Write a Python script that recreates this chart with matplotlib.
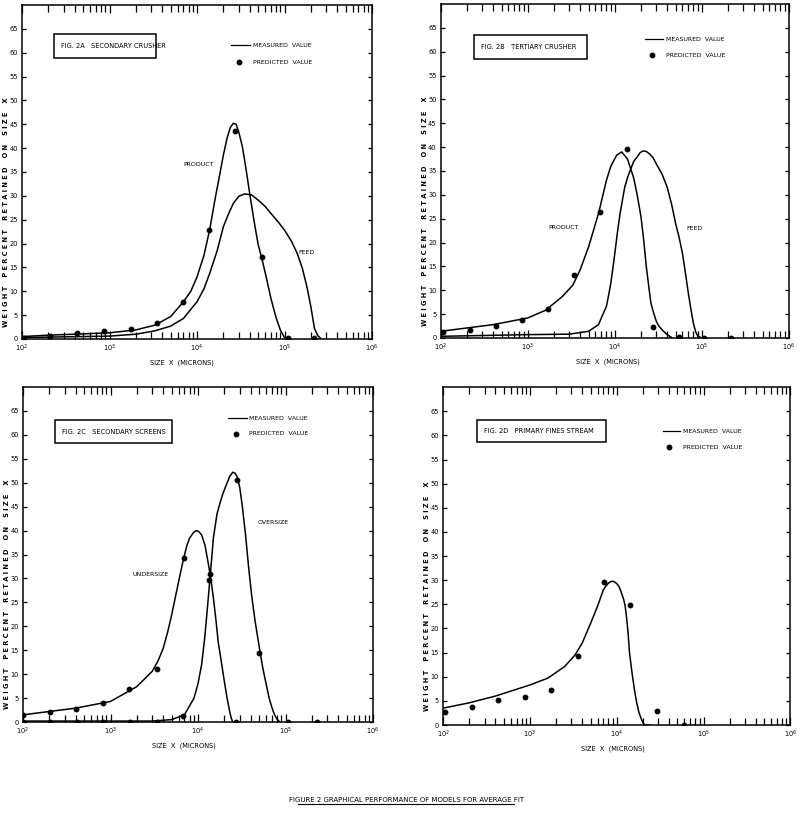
import matplotlib
matplotlib.use("Agg")
import matplotlib.pyplot as plt
from matplotlib.patches import Rectangle
from matplotlib.lines import Line2D
from matplotlib.ticker import LogLocator, FixedLocator, NullFormatter

plt.rcParams['font.family'] = ['Liberation Sans Narrow', 'DejaVu Sans']

# ---------------- Fig 2A secondary crusher ----------------
a_pts_x = [105, 209, 427, 861, 1740, 3470, 6930, 13800, 27500, 55000, 110000, 219000]
a_pts_y = [0.3, 0.6, 1.3, 1.7, 2.0, 3.3, 7.75, 22.8, 43.6, 17.2, 0.3, 0.3]
a_prod_x = [100, 200, 400, 1000, 2000, 3300, 5000, 7000, 8500, 10000, 12000, 14000,
            16000, 18000, 20000, 22000, 24000, 26000, 28000, 30000, 33000, 36000,
            40000, 45000, 50000, 55000, 60000, 70000, 80000, 90000, 100000]
a_prod_y = [0.5, 0.8, 1.0, 1.3, 1.9, 2.9, 4.7, 7.8, 10.0, 13.0, 17.5, 23.0,
            29.1, 34.0, 38.5, 42.0, 44.3, 45.2, 45.0, 43.4, 40.3, 36.1,
            30.5, 24.6, 19.8, 16.9, 14.0, 8.5, 4.5, 1.8, 0.3]
a_feed_x = [100, 1000, 2000, 3300, 5000, 7000, 10000, 12000, 14000, 17000, 20000, 23000,
            26000, 30000, 35000, 42000, 50000, 60000, 70000, 85000, 100000, 120000,
            140000, 160000, 180000, 200000, 220000, 240000, 260000]
a_feed_y = [0.3, 0.6, 1.0, 1.7, 2.7, 4.3, 7.8, 10.5, 13.8, 18.5, 23.5, 26.3,
            28.4, 29.9, 30.4, 30.2, 29.1, 27.8, 26.3, 24.5, 22.8, 20.5,
            17.9, 14.8, 11.0, 6.8, 2.2, 0.7, 0.1]

# ---------------- Fig 2B tertiary crusher ----------------
b_pts_x = [105, 218, 430, 857, 1718, 3410, 6760, 13700, 27600, 55000, 107000, 218000]
b_pts_y = [1.25, 1.7, 2.6, 3.8, 6.0, 13.2, 26.4, 39.6, 2.4, 0.2, 0.0, 0.0]
b_prod_x = [100, 200, 400, 1000, 1600, 2500, 3300, 4000, 5000, 6500, 8000, 9000, 10500,
            12000, 14000, 16500, 18000, 20000, 21500, 23000, 24500, 26000, 28000,
            30000, 32000, 35000, 40000, 45000]
b_prod_y = [1.4, 2.1, 2.8, 4.2, 5.8, 8.7, 11.1, 14.3, 19.1, 26.1, 33.0, 36.0, 38.3,
            39.0, 37.5, 33.5, 30.2, 25.4, 20.5, 15.0, 11.0, 7.3, 5.2,
            3.5, 2.5, 1.7, 0.7, 0.1]
b_feed_x = [100, 1000, 3000, 5000, 6500, 7000, 8000, 8500, 9000, 9500, 10000, 10700,
            11500, 13000, 14000, 15000, 16500, 18000, 19500, 21000, 23000, 25000,
            27500, 30000, 35000, 40000, 45000, 50000, 55000, 60000, 65000, 70000,
            75000, 80000, 85000, 90000, 100000]
b_feed_y = [0.35, 0.7, 0.8, 1.4, 2.8, 4.2, 6.6, 9.0, 11.5, 14.6, 17.7, 22.0,
            26.1, 31.6, 33.6, 35.1, 37.0, 37.9, 38.8, 39.2, 39.1, 38.6,
            37.8, 36.5, 34.3, 31.6, 28.0, 24.0, 21.0, 17.7, 13.5, 9.4,
            6.0, 3.1, 1.3, 0.35, 0.0]

# ---------------- Fig 2C secondary screens ----------------
c_under_pts_x = [100, 203, 407, 815, 1640, 3390, 6920, 13800, 27000]
c_under_pts_y = [1.4, 2.1, 2.8, 4.0, 7.0, 11.1, 34.2, 30.9, 0.0]
c_over_pts_x = [100, 201, 409, 818, 1650, 3380, 6680, 13460, 28100, 50400, 107000, 229000]
c_over_pts_y = [0.1, 0.0, 0.0, 0.1, 0.1, 0.1, 1.2, 29.7, 50.5, 14.4, 0.0, 0.0]
c_under_x = [100, 200, 400, 1000, 2000, 3000, 3500, 4000, 4500, 5000, 5500, 6000, 6500,
             7000, 7500, 8000, 8800, 9500, 10200, 11000, 12000, 13000, 14000, 15000,
             16000, 17000, 18500, 20000, 21500, 23000, 24000, 25000]
c_under_y = [1.5, 2.2, 2.9, 4.3, 7.4, 10.6, 12.8, 15.4, 18.8, 22.4, 26.0, 29.3, 32.3,
             34.9, 37.0, 38.4, 39.5, 40.0, 39.8, 39.1, 37.0, 33.5, 30.0, 25.9,
             21.5, 16.8, 12.5, 8.5, 5.0, 2.2, 0.8, 0.0]
c_over_x = [100, 3000, 5000, 7000, 9000, 10000, 11000, 12000, 13000, 14000, 15000,
            16500, 18000, 19500, 21000, 23000, 25000, 26500, 28000, 30000, 32000,
            35000, 38000, 41000, 45000, 50000, 55000, 60000, 65000, 70000, 75000,
            80000, 85000]
c_over_y = [0.2, 0.2, 0.5, 1.5, 5.0, 8.0, 12.0, 18.0, 25.2, 32.0, 38.5,
            43.5, 46.0, 48.0, 49.5, 51.3, 52.2, 52.0, 51.3, 49.0, 45.3,
            39.0, 32.1, 26.5, 21.0, 15.8, 11.3, 8.0, 5.0, 3.0, 1.5,
            0.6, 0.1]

# ---------------- Fig 2D primary fines stream ----------------
d_pts_x = [104, 216, 427, 865, 1754, 3590, 7080, 14100, 29100, 58900]
d_pts_y = [2.6, 3.7, 5.1, 5.7, 7.3, 14.2, 29.6, 24.9, 3.0, 0.0]
d_curve_x = [100, 200, 400, 1000, 1600, 2500, 3300, 4000, 5000, 6000, 7000, 7500,
             8000, 8500, 9000, 9500, 10000, 10500, 11000, 12000, 12500, 13000,
             13500, 14000, 15000, 16000, 17000, 18000, 19000, 20000, 21000, 24000]
d_curve_y = [3.5, 4.6, 6.0, 8.3, 9.7, 12.1, 14.5, 17.0, 21.1, 24.6, 28.0, 28.8,
             29.4, 29.7, 29.8, 29.6, 29.3, 28.8, 28.0, 26.0, 24.6, 22.0,
             19.0, 15.0, 10.7, 7.2, 4.5, 2.6, 1.4, 0.5, 0.0, 0.0]

titles = ["FIG. 2A   SECONDARY CRUSHER", "FIG. 2B   TERTIARY CRUSHER",
          "FIG. 2C   SECONDARY SCREENS", "FIG. 2D   PRIMARY FINES STREAM"]
ylab = "W E I G H T    P E R C E N T    R E T A I N E D    O N    S I Z E    X"
xlab = "SIZE  X  (MICRONS)"

fig = plt.figure(figsize=(8, 8.3), dpi=100)
axA = fig.add_axes([0.0275, 0.5916, 0.4375, 0.4024])
axB = fig.add_axes([0.551, 0.5928, 0.435, 0.4024])
axC = fig.add_axes([0.02875, 0.1301, 0.4375, 0.4036])
axD = fig.add_axes([0.554, 0.1265, 0.434, 0.407])
axes = [axA, axB, axC, axD]

lw = 1.1
ms = 3.2
axA.plot(a_prod_x, a_prod_y, color='black', lw=lw)
axA.plot(a_feed_x, a_feed_y, color='black', lw=lw)
axA.plot(a_pts_x, a_pts_y, 'o', color='black', ms=ms)
axA.text(1.05e4, 36.5, "PRODUCT", fontsize=4.5, ha='center', va='center')
axA.text(1.78e5, 18.2, "FEED", fontsize=4.5, ha='center', va='center')

axB.plot(b_prod_x, b_prod_y, color='black', lw=lw)
axB.plot(b_feed_x, b_feed_y, color='black', lw=lw)
axB.plot(b_pts_x, b_pts_y, 'o', color='black', ms=ms)
axB.text(2.57e3, 23.1, "PRODUCT", fontsize=4.5, ha='center', va='center')
axB.text(8.3e4, 22.9, "FEED", fontsize=4.5, ha='center', va='center')

axC.plot(c_under_x, c_under_y, color='black', lw=lw)
axC.plot(c_over_x, c_over_y, color='black', lw=lw)
axC.plot(c_under_pts_x, c_under_pts_y, 'o', color='black', ms=ms)
axC.plot(c_over_pts_x, c_over_pts_y, 'o', color='black', ms=ms)
axC.text(2.9e3, 30.9, "UNDERSIZE", fontsize=4.5, ha='center', va='center')
axC.text(7.2e4, 41.7, "OVERSIZE", fontsize=4.5, ha='center', va='center')

axD.plot(d_curve_x, d_curve_y, color='black', lw=lw)
axD.plot(d_pts_x, d_pts_y, 'o', color='black', ms=ms)

# title boxes and legends (axes fractions)
boxes = [(0.091, 0.841, 0.383, 0.913), (0.095, 0.835, 0.42, 0.907),
         (0.091, 0.833, 0.426, 0.901), (0.098, 0.837, 0.47, 0.902)]
legs = [(0.597, 0.651, 0.880, 0.62, 0.829, 0.66),
        (0.586, 0.638, 0.895, 0.606, 0.847, 0.647),
        (0.586, 0.640, 0.907, 0.609, 0.860, 0.646),
        (0.634, 0.683, 0.870, 0.651, 0.822, 0.692)]
xlab_pos = [0.457, 0.48, 0.46, 0.49]

for ax, t, bx, lg, xp in zip(axes, titles, boxes, legs, xlab_pos):
    ax.set_xscale('log')
    ax.set_xlim(1e2, 1e6)
    ax.set_ylim(0, 70)
    ax.yaxis.set_major_locator(FixedLocator(range(0, 70, 5)))
    ax.xaxis.set_major_locator(LogLocator(base=10, numticks=10))
    ax.xaxis.set_minor_locator(LogLocator(base=10, subs=range(2, 10), numticks=50))
    ax.xaxis.set_minor_formatter(NullFormatter())
    ax.tick_params(axis='both', which='both', direction='in', top=True, right=True,
                   labelsize=4.8, pad=3, width=0.9)
    ax.tick_params(axis='x', which='major', length=6)
    ax.tick_params(axis='x', which='minor', length=5)
    ax.tick_params(axis='y', which='major', length=3)
    for s in ax.spines.values():
        s.set_linewidth(1.1)
    x0, y0, x1, y1 = bx
    ax.add_patch(Rectangle((x0, y0), x1 - x0, y1 - y0, transform=ax.transAxes,
                           fill=False, lw=1.1, color='black'))
    ax.text(x0 + 0.02, (y0 + y1) / 2, t, transform=ax.transAxes, fontsize=4.8,
            ha='left', va='center')
    l0, l1, ly, dx, dy, tx = lg
    ax.plot([l0, l1], [ly, ly], color='black', lw=0.9, transform=ax.transAxes)
    ax.plot([dx], [dy], 'o', color='black', ms=ms, transform=ax.transAxes)
    ax.text(tx, ly, "MEASURED  VALUE", transform=ax.transAxes, fontsize=4.5,
            ha='left', va='center')
    ax.text(tx, dy, "PREDICTED  VALUE", transform=ax.transAxes, fontsize=4.5,
            ha='left', va='center')
    ax.text(-0.046, 0.38, ylab, transform=ax.transAxes, rotation=90, fontsize=4.8,
            ha='center', va='center', fontweight='bold')
    ax.text(xp, -0.07, xlab, transform=ax.transAxes, fontsize=4.8,
            ha='center', va='center')

fig.text(0.508, 0.036, "FIGURE 2 GRAPHICAL PERFORMANCE OF MODELS FOR AVERAGE FIT",
         fontsize=5, ha='center', va='center')
fig.add_artist(Line2D([0.372, 0.642], [0.031, 0.031], color='black', lw=0.8))

fig.savefig("out.png", dpi=100, facecolor='white')
